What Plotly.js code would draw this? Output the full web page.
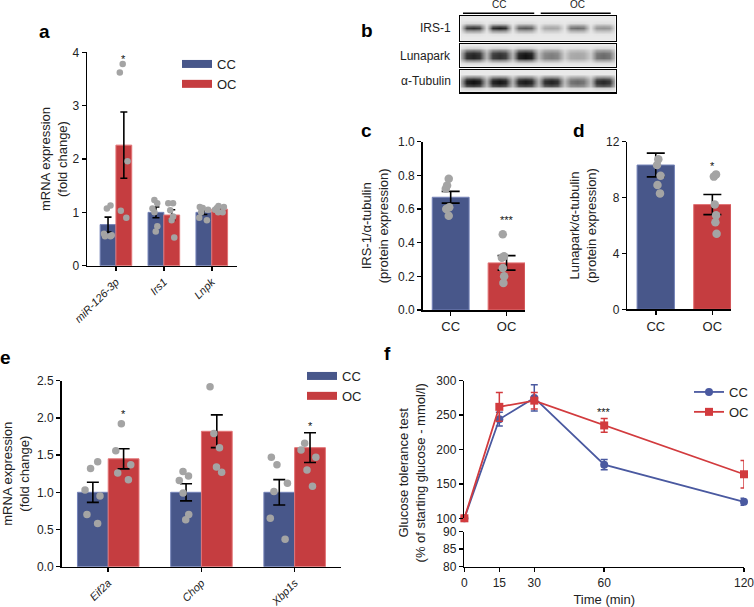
<!DOCTYPE html>
<html><head><meta charset="utf-8">
<script src="https://cdn.plot.ly/plotly-3.0.1.min.js"></script>
<style>html,body{margin:0;padding:0;background:#fff}#chart{width:754px;height:607px}</style>
</head><body><div id="chart"></div>
<script>
// ---------- data ----------
// panel a
const aGenes = ['miR-126-3p', 'Irs1', 'Lnpk'];
const aCC = [0.77, 1.00, 1.00];
const aOC = [2.26, 0.95, 1.06];
const aCCerr = [0.14, 0.10, 0.04];
const aOCerr = [0.62, 0.10, 0.03];
const aCCdots = [[1.13, 1.07, 0.60, 0.57, 0.55, 0.55], [1.23, 1.17, 1.07, 1.00, 0.74, 0.64], [1.10, 1.08, 1.05, 1.00, 0.90, 0.85]];
const aOCdots = [[3.78, 3.62, 1.96, 1.03, 0.90], [1.17, 1.17, 1.04, 0.92, 0.85, 0.53], [1.12, 1.10, 1.08, 1.05, 1.00, 1.00]];
// panel b (relative band intensity per lane, 3 CC + 3 OC)
const blotRows = ['IRS-1', 'Lunapark', 'α-Tubulin'];
const irsBand = [0.85, 0.92, 0.70, 0.35, 0.62, 0.45];
const lunaBand = [0.90, 0.85, 0.97, 0.55, 0.35, 0.62];
const tubBand = [0.97, 0.95, 0.93, 0.90, 0.62, 0.88];
// panel c
const groups = ['CC', 'OC'];
const cMean = [0.67, 0.28];
const cErr = [0.035, 0.043];
const cDots = [[0.78, 0.74, 0.72, 0.61, 0.60, 0.56], [0.45, 0.32, 0.31, 0.25, 0.20, 0.16]];
// panel d
const dMean = [10.33, 7.50];
const dErr = [0.85, 0.72];
const dDots = [[10.74, 10.33, 9.56, 8.90, 8.30], [9.66, 9.50, 7.50, 6.73, 6.23, 5.41]];
// panel e
const eGenes = ['Eif2a', 'Chop', 'Xbp1s'];
const eCC = [1.00, 1.00, 1.00];
const eOC = [1.45, 1.82, 1.60];
const eCCerr = [0.135, 0.115, 0.17];
const eOCerr = [0.135, 0.22, 0.20];
const eCCdots = [[1.41, 1.32, 1.03, 0.95, 0.70, 0.58], [1.28, 1.22, 1.16, 0.99, 0.70, 0.63], [1.47, 1.37, 1.12, 1.01, 0.65, 0.37]];
const eOCdots = [[1.92, 1.56, 1.37, 1.26, 1.17], [2.42, 1.79, 1.60, 1.34, 1.27], [1.66, 1.57, 1.47, 1.30, 1.08]];
// panel f
const time = [0, 15, 30, 60, 120];
const fCC = [100, 244, 275, 178, 124];
const fCCerr = [2, 10, 19, 7.5, 5];
const fOC = [100, 262, 271, 235, 164];
const fOCerr = [2, 21, 12, 10, 20];
const fTicksUpper = [100, 150, 200, 250, 300];
const fTicksLower = [80, 85, 90];

// ---------- style ----------
const FONT = 'Liberation Sans, Arial, Helvetica, sans-serif';
const BLUE = '#48578a', RED = '#c53d40';
const BLUE_E = '#7583b8', RED_E = '#e27476';
const BLUE_L = '#4a59a0', RED_L = '#d23b3e';
const DOT = '#a4a4a4';
const TXT = '#222';
const W = 754, H = 607;
const px = v => v / W, py = v => 1 - v / H;

function barTrace(cats, vals, errs, color, edge, xa, ya, ew, og) {
  const t = {type: 'bar', x: cats, y: vals, xaxis: xa, yaxis: ya,
    marker: {color: color, line: {color: edge, width: 1}},
    error_y: {type: 'data', array: errs, color: '#000', thickness: 1.6, width: ew},
    showlegend: false, hoverinfo: 'skip'};
  if (og) { t.offsetgroup = og; t.alignmentgroup = xa; }
  return t;
}
function dotTrace(cats, dots, xa, ya, size, jitter, og) {
  const x = [], y = [];
  dots.forEach((arr, i) => arr.forEach(v => { x.push(cats[i]); y.push(v); }));
  const t = {type: 'box', orientation: 'v', x: x, y: y, xaxis: xa, yaxis: ya,
    boxpoints: 'all', jitter: jitter, pointpos: 0,
    fillcolor: 'rgba(0,0,0,0)', line: {color: 'rgba(0,0,0,0)', width: 0},
    marker: {color: DOT, size: size, line: {width: 0}},
    showlegend: false, hoverinfo: 'skip'};
  if (og) { t.offsetgroup = og; t.alignmentgroup = xa; t.name = og; }
  return t;
}
function legendSwatch(name, color, lg) {
  return {type: 'scatter', mode: 'lines', x: [null], y: [null], name: name,
    line: {color: color, width: 8}, legend: lg, xaxis: 'x', yaxis: 'y', hoverinfo: 'skip'};
}
// blot grid built from lane intensities
const laneCols = [];
for (let k = -2; k <= 22; k++) laneCols.push(k / 4);
function blotZ(bands, profile, gapFrac) {
  return profile.map(p => laneCols.map(c => {
    const frac = c - Math.floor(c);
    if (Math.abs(frac - 0.5) < 1e-6) {
      const l = Math.floor(c), r = l + 1;
      const nb = [];
      if (l >= 0) nb.push(bands[l]);
      if (r < bands.length) nb.push(bands[r]);
      const avg = nb.reduce((s, v) => s + v, 0) / nb.length;
      return p * avg * gapFrac;
    }
    const lane = Math.round(c);
    return p * bands[lane] * (Math.abs(c - lane) < 1e-6 ? 1 : 0.93);
  }));
}
const irsProfile = [0, 0, 0.05, 0.45, 1, 0.75, 0.1, 0, 0];
const lunaProfile = [0, 0.1, 0.6, 1, 1, 0.95, 0.6, 0.15, 0];
const tubProfile = [0, 0.15, 0.8, 1, 1, 0.85, 0.35, 0, 0];
const rowIdx = [0, 1, 2, 3, 4, 5, 6, 7, 8];
const blotScale = [[0, '#e9e9e9'], [0.5, '#8a8a8a'], [1, '#0a0a0a']];
function blotTrace(z, xa, ya) {
  return {type: 'heatmap', x: laneCols, y: rowIdx, z: z, xaxis: xa, yaxis: ya,
    colorscale: blotScale, zmin: 0, zmax: 1, showscale: false, zsmooth: 'best', hoverinfo: 'skip'};
}

const traces = [
  // a
  barTrace(aGenes, aCC, aCCerr, BLUE, BLUE_E, 'x', 'y', 3.5, 'cc'),
  barTrace(aGenes, aOC, aOCerr, RED, RED_E, 'x', 'y', 3.5, 'oc'),
  dotTrace(aGenes, aCCdots, 'x', 'y', 6.5, 0.6, 'cc'),
  dotTrace(aGenes, aOCdots, 'x', 'y', 6.5, 0.6, 'oc'),
  legendSwatch('CC', BLUE, 'legend'),
  legendSwatch('OC', RED, 'legend'),
  // b
  blotTrace(blotZ(irsBand, irsProfile, 0.05), 'x2', 'y2'),
  blotTrace(blotZ(lunaBand, lunaProfile, 0.3), 'x3', 'y3'),
  blotTrace(blotZ(tubBand, tubProfile, 0.3), 'x4', 'y4'),
  // c
  barTrace(groups, cMean, cErr, [BLUE, RED], [BLUE_E, RED_E], 'x5', 'y5', 9),
  dotTrace(groups, cDots, 'x5', 'y5', 8.5, 0.7),
  // d
  barTrace(groups, dMean, dErr, [BLUE, RED], [BLUE_E, RED_E], 'x6', 'y6', 9),
  dotTrace(groups, dDots, 'x6', 'y6', 8.5, 0.7),
  // e
  barTrace(eGenes, eCC, eCCerr, BLUE, BLUE_E, 'x7', 'y7', 6, 'cc'),
  barTrace(eGenes, eOC, eOCerr, RED, RED_E, 'x7', 'y7', 6, 'oc'),
  dotTrace(eGenes, eCCdots, 'x7', 'y7', 7.5, 0.6, 'cc'),
  dotTrace(eGenes, eOCdots, 'x7', 'y7', 7.5, 0.6, 'oc'),
  legendSwatch('CC', BLUE, 'legend2'),
  legendSwatch('OC', RED, 'legend2'),
  // f
  {type: 'scatter', mode: 'lines+markers', x: time, y: fCC, name: 'CC', xaxis: 'x8', yaxis: 'y8',
    line: {color: BLUE_L, width: 1.8}, marker: {symbol: 'circle', size: 8, color: BLUE_L},
    error_y: {type: 'data', array: fCCerr, color: BLUE_L, thickness: 1.5, width: 3.5},
    cliponaxis: false, legend: 'legend3', hoverinfo: 'skip'},
  {type: 'scatter', mode: 'lines+markers', x: time, y: fOC, name: 'OC', xaxis: 'x8', yaxis: 'y8',
    line: {color: RED_L, width: 1.8}, marker: {symbol: 'square', size: 8, color: RED_L},
    error_y: {type: 'data', array: fOCerr, color: RED_L, thickness: 1.5, width: 3.5},
    cliponaxis: false, legend: 'legend3', hoverinfo: 'skip'},
  {type: 'scatter', x: [], y: [], xaxis: 'x8', yaxis: 'y9', showlegend: false, hoverinfo: 'skip'}
];

const tickFont = {family: FONT, size: 12, color: TXT};
const catFont = {family: FONT, size: 11, color: TXT, style: 'italic'};
function ax(extra) {
  return Object.assign({showline: true, linecolor: '#000', linewidth: 1.6, ticks: 'outside', ticklen: 4,
    tickwidth: 1.5, tickcolor: '#000', showgrid: false, zeroline: false, tickfont: tickFont, fixedrange: true,
    ticklabeloverflow: 'allow'}, extra);
}
function blotAx(domain, anchor, range) {
  return {domain: domain, anchor: anchor, range: range, showline: true, mirror: true, linecolor: '#000',
    linewidth: 1.5, ticks: '', showticklabels: false, showgrid: false, zeroline: false, fixedrange: true};
}
const titleFont = {family: FONT, size: 13, color: TXT};
const bx = [px(461), px(616.7)];

const ann = [];
function label(t, x, y) {
  ann.push({text: '<b>' + t + '</b>', xref: 'paper', yref: 'paper', x: px(x), y: py(y), showarrow: false,
    xanchor: 'center', yanchor: 'middle', font: {family: FONT, size: 19, color: '#000'}});
}
label('a', 45, 32); label('b', 367, 30); label('c', 367, 131); label('d', 580, 130); label('e', 6, 357); label('f', 388, 353);
function star(t, xr, yr, x, y) {
  ann.push({text: t, xref: xr, yref: yr, x: x, y: y, showarrow: false, xanchor: 'center', yanchor: 'middle',
    yshift: -3, font: {family: FONT, size: 11, color: '#111'}});
}
star('*', 'x', 'y', 0.165, 3.93);
star('***', 'x5', 'y5', 1, 0.55);
star('*', 'x6', 'y6', 1, 10.5);
star('*', 'x7', 'y7', 0.165, 2.09);
star('**', 'x7', 'y7', 1.165, 2.62);
star('*', 'x7', 'y7', 2.165, 1.93);
star('***', 'x8', 'y8', 60, 259);
// blot row labels and group headers
const rowY = [28, 56, 81];
blotRows.forEach((t, i) => ann.push({text: t, xref: 'paper', yref: 'paper', x: px(454), y: py(rowY[i]),
  xanchor: 'right', yanchor: 'middle', showarrow: false, font: {family: FONT, size: 12, color: TXT}}));
groups.forEach((g, i) => ann.push({text: g, xref: 'x2', yref: 'paper', x: 1 + 3 * i, y: py(5),
  xanchor: 'center', yanchor: 'middle', showarrow: false, font: {family: FONT, size: 10, color: TXT}}));
// f y title spanning the broken axis
ann.push({text: 'Glucose tolerance test<br>(% of starting glucose - mmol/l)', xref: 'paper', yref: 'paper',
  x: px(413), y: py(473), textangle: -90, showarrow: false, xanchor: 'center', yanchor: 'middle',
  font: titleFont});

const shapes = [
  {type: 'line', xref: 'x2', yref: 'paper', x0: -0.4, x1: 2.35, y0: py(13.3), y1: py(13.3), line: {color: '#000', width: 1.5}},
  {type: 'line', xref: 'x2', yref: 'paper', x0: 2.6, x1: 5.3, y0: py(13.3), y1: py(13.3), line: {color: '#000', width: 1.5}}
];

const legendBase = {xanchor: 'left', yanchor: 'top', bgcolor: 'rgba(0,0,0,0)', borderwidth: 0,
  font: {family: FONT, size: 13, color: TXT}, tracegroupgap: 0};

const layout = {
  width: W, height: H, margin: {l: 0, r: 0, t: 0, b: 0},
  paper_bgcolor: '#fff', plot_bgcolor: 'rgba(0,0,0,0)',
  font: {family: FONT, color: TXT},
  barmode: 'group', bargap: 0.34, bargroupgap: 0,
  boxmode: 'group', boxgap: 0.34, boxgroupgap: 0,
  showlegend: true,
  legend: Object.assign({}, legendBase, {x: px(177), y: py(49)}),
  legend2: Object.assign({}, legendBase, {x: px(302), y: py(361)}),
  legend3: Object.assign({}, legendBase, {x: px(690), y: py(377)}),
  // a
  xaxis: ax({domain: [px(87.3), px(237)], anchor: 'y', type: 'category', range: [-0.6, 2.52], tickangle: -45,
    tickfont: catFont}),
  yaxis: ax({domain: [py(265.7), py(52.3)], anchor: 'x', range: [0, 4], tickvals: [0, 1, 2, 3, 4],
    title: {text: 'mRNA expression<br>(fold change)', font: titleFont, standoff: 2}}),
  // blots
  xaxis2: blotAx(bx, 'y2', [-0.5, 5.5]),
  yaxis2: blotAx([py(40.7), py(16)], 'x2', [-0.5, 8.5]),
  xaxis3: blotAx(bx, 'y3', [-0.5, 5.5]),
  yaxis3: blotAx([py(66.7), py(44)], 'x3', [-0.5, 8.5]),
  xaxis4: blotAx(bx, 'y4', [-0.5, 5.5]),
  yaxis4: blotAx([py(92), py(70)], 'x4', [-0.5, 8.5]),
  // c
  xaxis5: ax({domain: [px(423.3), px(525.7)], anchor: 'y5', type: 'category', range: [-0.5, 1.33],
    tickfont: Object.assign({}, tickFont, {size: 13})}),
  yaxis5: ax({domain: [py(310), py(141.7)], anchor: 'x5', range: [0, 1], tickvals: [0, 0.2, 0.4, 0.6, 0.8, 1.0],
    tickformat: '.1f', title: {text: 'IRS-1/α-tubulin<br>(protein expression)', font: titleFont, standoff: 6}}),
  // d
  xaxis6: ax({domain: [px(628.3), px(732)], anchor: 'y6', type: 'category', range: [-0.5, 1.33],
    tickfont: Object.assign({}, tickFont, {size: 13})}),
  yaxis6: ax({domain: [py(309.3), py(141.7)], anchor: 'x6', range: [0, 12], tickvals: [0, 4, 8, 12],
    title: {text: 'Lunapark/α-tubulin<br>(protein expression)', font: titleFont, standoff: 6}}),
  // e
  xaxis7: ax({domain: [px(61.7), px(341.7)], anchor: 'y7', type: 'category', range: [-0.5, 2.5], tickangle: -45,
    tickfont: catFont}),
  yaxis7: ax({domain: [py(566.7), py(380.7)], anchor: 'x7', range: [0, 2.5], tickvals: [0, 0.5, 1, 1.5, 2, 2.5],
    tickformat: '.1f', title: {text: 'mRNA expression<br>(fold change)', font: titleFont, standoff: 6}}),
  // f
  xaxis8: ax({domain: [px(465), px(745)], anchor: 'y9', range: [0, 120], tickvals: time,
    title: {text: 'Time (min)', font: titleFont, standoff: 10}}),
  yaxis8: ax({domain: [py(518.3), py(380.7)], anchor: 'x8', range: [100, 300], tickvals: fTicksUpper}),
  yaxis9: ax({domain: [py(566.7), py(531.7)], anchor: 'x8', range: [80, 90], tickvals: fTicksLower}),
  annotations: ann,
  shapes: shapes
};

Plotly.newPlot('chart', traces, layout, {displayModeBar: false, staticPlot: true});
</script></body></html>
